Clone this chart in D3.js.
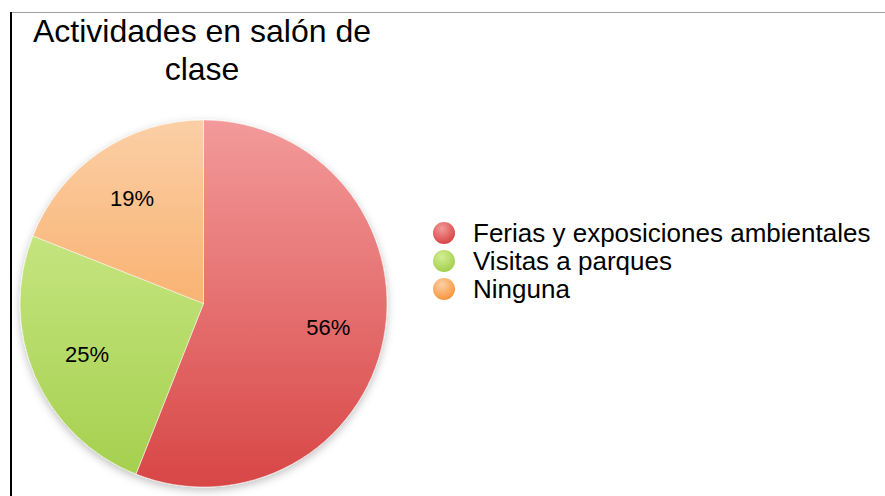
<!DOCTYPE html>
<html>
<head>
<meta charset="utf-8">
<script src="https://cdn.jsdelivr.net/npm/d3@7"></script>
<style>
  body { margin: 0; background: #fff; }
  svg { display: block; font-family: "Liberation Sans", Arial, sans-serif; }
</style>
</head>
<body>
<svg id="chart"></svg>
<script>
// data
const categories = ["Ferias y exposiciones ambientales", "Visitas a parques", "Ninguna"];
const values = [56, 25, 19];
const labels = ["56%", "25%", "19%"];
const titleLines = ["Actividades en salón de", "clase"];

// colours (top, bottom of each slice gradient)
const colorsTop = ["#f39a9a", "#d3ee96", "#fbcfa6"];
const colorsBottom = ["#d84646", "#a4cf4c", "#f8963e"];

const width = 885, height = 496;
const cx = 203.5, cy = 303.5, radius = 183.5;

const svg = d3.select("#chart")
  .attr("width", width)
  .attr("height", height);

const defs = svg.append("defs");

// gradients, in the pie group's own coordinates (centre = 0,0)
categories.forEach((c, i) => {
  const g = defs.append("linearGradient")
    .attr("id", "grad" + i)
    .attr("gradientUnits", "userSpaceOnUse")
    .attr("x1", 0).attr("y1", -radius)
    .attr("x2", 0).attr("y2", radius);
  g.append("stop").attr("offset", "0%").attr("stop-color", colorsTop[i]);
  g.append("stop").attr("offset", "100%").attr("stop-color", colorsBottom[i]);

  const lg = defs.append("radialGradient")
    .attr("id", "lgrad" + i)
    .attr("cx", "40%").attr("cy", "30%").attr("r", "70%");
  lg.append("stop").attr("offset", "0%").attr("stop-color", colorsTop[i]);
  lg.append("stop").attr("offset", "100%").attr("stop-color", colorsBottom[i]);
});

const shadow = defs.append("filter").attr("id", "shadow")
  .attr("x", "-10%").attr("y", "-10%").attr("width", "120%").attr("height", "125%");
shadow.append("feDropShadow")
  .attr("dx", 0).attr("dy", 3).attr("stdDeviation", 4)
  .attr("flood-color", "#000").attr("flood-opacity", 0.25);

// frame lines
svg.append("line")
  .attr("x1", 10).attr("y1", 12.5).attr("x2", width).attr("y2", 12.5)
  .attr("stroke", "#a0a0a0").attr("stroke-width", 1);
svg.append("line")
  .attr("x1", 11).attr("y1", 12).attr("x2", 11).attr("y2", height)
  .attr("stroke", "#000").attr("stroke-width", 2);

// title
svg.append("text")
  .attr("text-anchor", "middle")
  .style("font-size", "32px")
  .attr("fill", "#000")
  .selectAll("tspan")
  .data(titleLines)
  .join("tspan")
  .attr("x", 202)
  .attr("y", (d, i) => 42 + i * 38)
  .text(d => d);

// pie
const pie = d3.pie().sort(null).value(d => d);
const arc = d3.arc().innerRadius(0).outerRadius(radius);
const labelArc = d3.arc().innerRadius(127).outerRadius(127);
const arcs = pie(values);

const g = svg.append("g")
  .attr("transform", `translate(${cx}, ${cy})`);

g.append("g")
  .attr("filter", "url(#shadow)")
  .selectAll("path")
  .data(arcs)
  .join("path")
  .attr("d", arc)
  .attr("fill", (d, i) => `url(#grad${i})`)
  .attr("stroke", "rgba(255,255,255,0.5)")
  .attr("stroke-width", 1);

// labels
g.append("g")
  .selectAll("text")
  .data(arcs)
  .join("text")
  .attr("transform", d => `translate(${labelArc.centroid(d)})`)
  .attr("text-anchor", "middle")
  .attr("dy", "0.35em")
  .style("font-size", "22px")
  .attr("fill", "#000")
  .text((d, i) => labels[i]);

// legend
const legend = svg.append("g")
  .attr("transform", "translate(444, 233)");

const items = legend.selectAll("g")
  .data(categories)
  .join("g")
  .attr("transform", (d, i) => `translate(0, ${i * 28})`);

items.append("circle")
  .attr("r", 11)
  .attr("fill", (d, i) => `url(#lgrad${i})`);

items.append("text")
  .attr("x", 29)
  .attr("dy", "0.36em")
  .style("font-size", "26px")
  .attr("fill", "#000")
  .text(d => d);
</script>
</body>
</html>
